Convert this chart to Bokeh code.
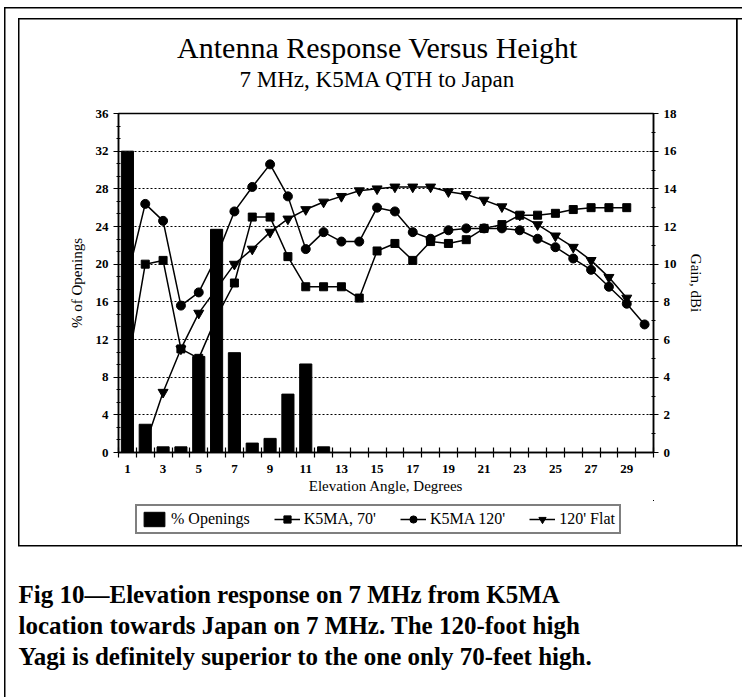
from bokeh.plotting import figure
from bokeh.layouts import column
from bokeh.models import (Range1d, LinearAxis, FixedTicker, Legend, LegendItem,
                          Label, Title)
from bokeh.embed import file_html
from bokeh.resources import INLINE

# ---------------- data ----------------
bar_angles = [1, 2, 3, 4, 5, 6, 7, 8, 9, 10, 11, 12]
openings = [32.0, 3.0, 0.6, 0.6, 10.2, 23.7, 10.6, 1.0, 1.5, 6.2, 9.4, 0.6]

k70_angles = list(range(1, 30))
k70_gain = [4.5, 10.0, 10.2, 5.5, 5.0, 7.2, 9.0, 12.5, 12.5, 10.4,
            8.8, 8.8, 8.8, 8.2, 10.7, 11.1, 10.2, 11.2, 11.1, 11.3,
            11.9, 12.1, 12.6, 12.6, 12.7, 12.9, 13.0, 13.0, 13.0]

k120_angles = list(range(1, 31))
k120_gain = [9.3, 13.2, 12.3, 7.8, 8.5, 10.4, 12.8, 14.1, 15.3, 13.6,
             10.8, 11.7, 11.2, 11.2, 13.0, 12.8, 11.7, 11.35, 11.8, 11.9,
             11.9, 11.9, 11.8, 11.35, 10.9, 10.3, 9.7, 8.8, 7.9, 6.8]

flat_angles = list(range(2, 30))
flat_gain = [0.4, 3.2, 5.5, 7.4, 8.7, 10.0, 10.8, 11.7, 12.4, 12.9,
             13.3, 13.6, 13.9, 14.0, 14.1, 14.1, 14.1, 13.85, 13.7, 13.4,
             13.05, 12.6, 12.1, 11.5, 10.9, 10.2, 9.3, 8.2]

x_tick_labels = [1, 3, 5, 7, 9, 11, 13, 15, 17, 19, 21, 23, 25, 27, 29]
left_ticks = [0, 4, 8, 12, 16, 20, 24, 28, 32, 36]
right_ticks = [0, 2, 4, 6, 8, 10, 12, 14, 16, 18]

title_text = "Antenna Response Versus Height"
subtitle_text = "7 MHz, K5MA QTH to Japan"
legend_labels = ["% Openings", "K5MA, 70'", "K5MA 120'", "120' Flat"]
caption_lines = [
    "Fig 10\u2014Elevation response on 7 MHz from K5MA",
    "location towards Japan on 7 MHz. The 120-foot high",
    "Yagi is definitely superior to the one only 70-feet high.",
]

SERIF = "Liberation Serif"
W = 742
H_TOP, H_MID, H_BOT = 105, 395, 197      # header / chart / footer strips
FL, FR = 118, 653                        # chart frame left/right (page px)
F_TOP, F_BOT = 113, 452                  # chart frame top/bottom (page px)
BOT_FRAME_H = 77                         # footer frame height (legend lives here)


def shadows(*layers):
    return {"box-shadow": ", ".join(layers)}


def blank(height, bottom_border=0):
    f = figure(width=W, height=height, output_backend="svg", toolbar_location=None,
               x_range=Range1d(-3, -2), y_range=Range1d(-3, -2),
               x_axis_type=None, y_axis_type=None,
               min_border_left=FL, min_border_right=W - FR,
               min_border_top=0, min_border_bottom=bottom_border)
    f.outline_line_color = None
    f.background_fill_alpha = 0
    f.border_fill_alpha = 0
    return f


# ---------------- header strip ----------------
top = blank(H_TOP)
top.add_layout(Label(x=377 - FL, y=H_TOP - 47, x_units="screen", y_units="screen",
                     text=title_text, text_align="center", text_baseline="middle",
                     text_font=SERIF, text_font_size="30px", text_color="black"))
top.add_layout(Label(x=377 - FL, y=H_TOP - 79, x_units="screen", y_units="screen",
                     text=subtitle_text, text_align="center", text_baseline="middle",
                     text_font=SERIF, text_font_size="23px", text_color="black"))
top.styles = shadows(
    "inset 4px 0 0 0 white", "inset 0 7px 0 0 white",
    "inset 5.5px 0 0 0 black", "inset 0 8.5px 0 0 black",
    "inset 18px 0 0 0 white", "inset 0 18px 0 0 white",
    "inset 19.5px 0 0 0 black", "inset 0 19.5px 0 0 black",
    "inset 736px 0 0 0 white", "inset 737.5px 0 0 0 black")

# ---------------- chart ----------------
p = figure(width=W, height=H_MID, output_backend="svg", toolbar_location=None,
           x_range=Range1d(0.5, 30.5), y_range=Range1d(0, 36),
           min_border_left=FL, min_border_right=W - FR,
           min_border_top=F_TOP - H_TOP, min_border_bottom=H_TOP + H_MID - F_BOT)
p.background_fill_color = "white"
p.border_fill_alpha = 0
p.outline_line_color = "black"
p.outline_line_width = 1.5
p.styles = shadows(
    "inset 4px 0 0 0 white", "inset 5.5px 0 0 0 black",
    "inset 18px 0 0 0 white", "inset 19.5px 0 0 0 black",
    "inset 736px 0 0 0 white", "inset 737.5px 0 0 0 black")

p.extra_y_ranges = {"gain": Range1d(0, 18)}

p.xgrid.grid_line_color = None
p.ygrid.ticker = FixedTicker(ticks=left_ticks[1:-1])
p.ygrid.grid_line_color = "black"
p.ygrid.grid_line_dash = "2 2"
p.ygrid.grid_line_width = 1

xa = p.xaxis[0]
xa.ticker = FixedTicker(ticks=x_tick_labels,
                        minor_ticks=[i + 0.5 for i in range(0, 31)])
xa.axis_label = "Elevation Angle, Degrees"
xa.minor_tick_in = 5
xa.minor_tick_out = 5
xa.major_label_standoff = 6

ya = p.yaxis[0]
ya.ticker = FixedTicker(ticks=left_ticks,
                        minor_ticks=[i * 4 / 3 for i in range(0, 28)])
ya.axis_label = "% of Openings"

ra = LinearAxis(y_range_name="gain",
                ticker=FixedTicker(ticks=right_ticks,
                                   minor_ticks=list(range(0, 19))),
                axis_label="Gain, dBi")
p.add_layout(ra, "right")

for ax in [xa, ya, ra]:
    ax.major_label_text_font = SERIF
    ax.major_label_text_font_style = "bold"
    ax.major_label_text_font_size = "13px"
    ax.major_label_text_color = "black"
    ax.axis_label_text_font = SERIF
    ax.axis_label_text_font_style = "normal"
    ax.axis_label_text_font_size = "15px"
    ax.axis_label_text_color = "black"
    ax.axis_line_color = "black"
    ax.axis_line_width = 1.5
    ax.minor_tick_line_color = "black"
    ax.minor_tick_line_width = 1.2
for ax in [ya, ra]:
    ax.major_tick_line_color = "black"
    ax.major_tick_line_width = 1.2
    ax.major_tick_in = 4
    ax.major_tick_out = 5
    ax.minor_tick_in = 2
    ax.minor_tick_out = 2
xa.major_tick_line_color = None
xa.axis_label_standoff = 2
ya.axis_label_standoff = 8
ra.axis_label_standoff = 8

# lines first, bars on top (the bars hide the lines in the original)
p.line(k70_angles, k70_gain, y_range_name="gain", color="black", line_width=1.5)
p.scatter(k70_angles, k70_gain, y_range_name="gain", marker="square", size=8, color="black")
p.line(k120_angles, k120_gain, y_range_name="gain", color="black", line_width=1.5)
p.scatter(k120_angles, k120_gain, y_range_name="gain", marker="circle", size=9, color="black")
p.line(flat_angles, flat_gain, y_range_name="gain", color="black", line_width=1.5)
p.scatter(flat_angles, flat_gain, y_range_name="gain", marker="inverted_triangle",
          size=10, color="black")
p.vbar(x=bar_angles, top=openings, width=0.68, color="black")

# ---------------- footer strip: legend + caption ----------------
bot = blank(H_BOT, bottom_border=H_BOT - BOT_FRAME_H)
# legend keys: same series, drawn in a range where they fall out of view
kb = bot.vbar(x=bar_angles, top=openings, width=0.68, color="black")
k1l = bot.line(k70_angles, k70_gain, color="black", line_width=1.5)
k1s = bot.scatter(k70_angles, k70_gain, marker="square", size=7, color="black")
k2l = bot.line(k120_angles, k120_gain, color="black", line_width=1.5)
k2s = bot.scatter(k120_angles, k120_gain, marker="circle", size=7, color="black")
k3l = bot.line(flat_angles, flat_gain, color="black", line_width=1.5)
k3s = bot.scatter(flat_angles, flat_gain, marker="inverted_triangle", size=8, color="black")

legend = Legend(items=[
    LegendItem(label=legend_labels[0], renderers=[kb]),
    LegendItem(label=legend_labels[1], renderers=[k1l, k1s]),
    LegendItem(label=legend_labels[2], renderers=[k2l, k2s]),
    LegendItem(label=legend_labels[3], renderers=[k3l, k3s]),
], orientation="horizontal", location=(135 - FL, BOT_FRAME_H - 34))
legend.label_text_font = SERIF
legend.label_text_font_size = "16px"
legend.label_text_color = "black"
legend.border_line_color = "black"
legend.border_line_width = 2
legend.padding = 4
legend.spacing = 24
legend.glyph_width = 26
legend.glyph_height = 18
legend.label_standoff = 4
legend.margin = 0
legend.background_fill_color = "white"
bot.add_layout(legend)

for i, line in enumerate(caption_lines):
    bot.add_layout(Title(text=line, align="left", offset=-(FL - 18), standoff=2,
                         text_font=SERIF, text_font_style="bold",
                         text_font_size="25px", text_color="black"), "below")

bot.styles = shadows(
    "inset 4px 0 0 0 white", "inset 5.5px 0 0 0 black",
    "inset 18px 0 0 0 white",
    "inset 0 -150.5px 0 0 white", "inset 0 -152px 0 0 black",
    "inset 19.5px 0 0 0 black",
    "inset 736px 0 0 0 white", "inset 737.5px 0 0 0 black")

layout = column(top, p, bot, spacing=0)
# right edge of the inner box, drawn behind the whole page column
layout.styles = shadows(
    "inset 0 18px 0 0 white", "inset 0 -152px 0 0 white",
    "inset 736px 0 0 0 white", "inset 737.5px 0 0 0 black")
open("out.html", "w").write(file_html(layout, INLINE))
